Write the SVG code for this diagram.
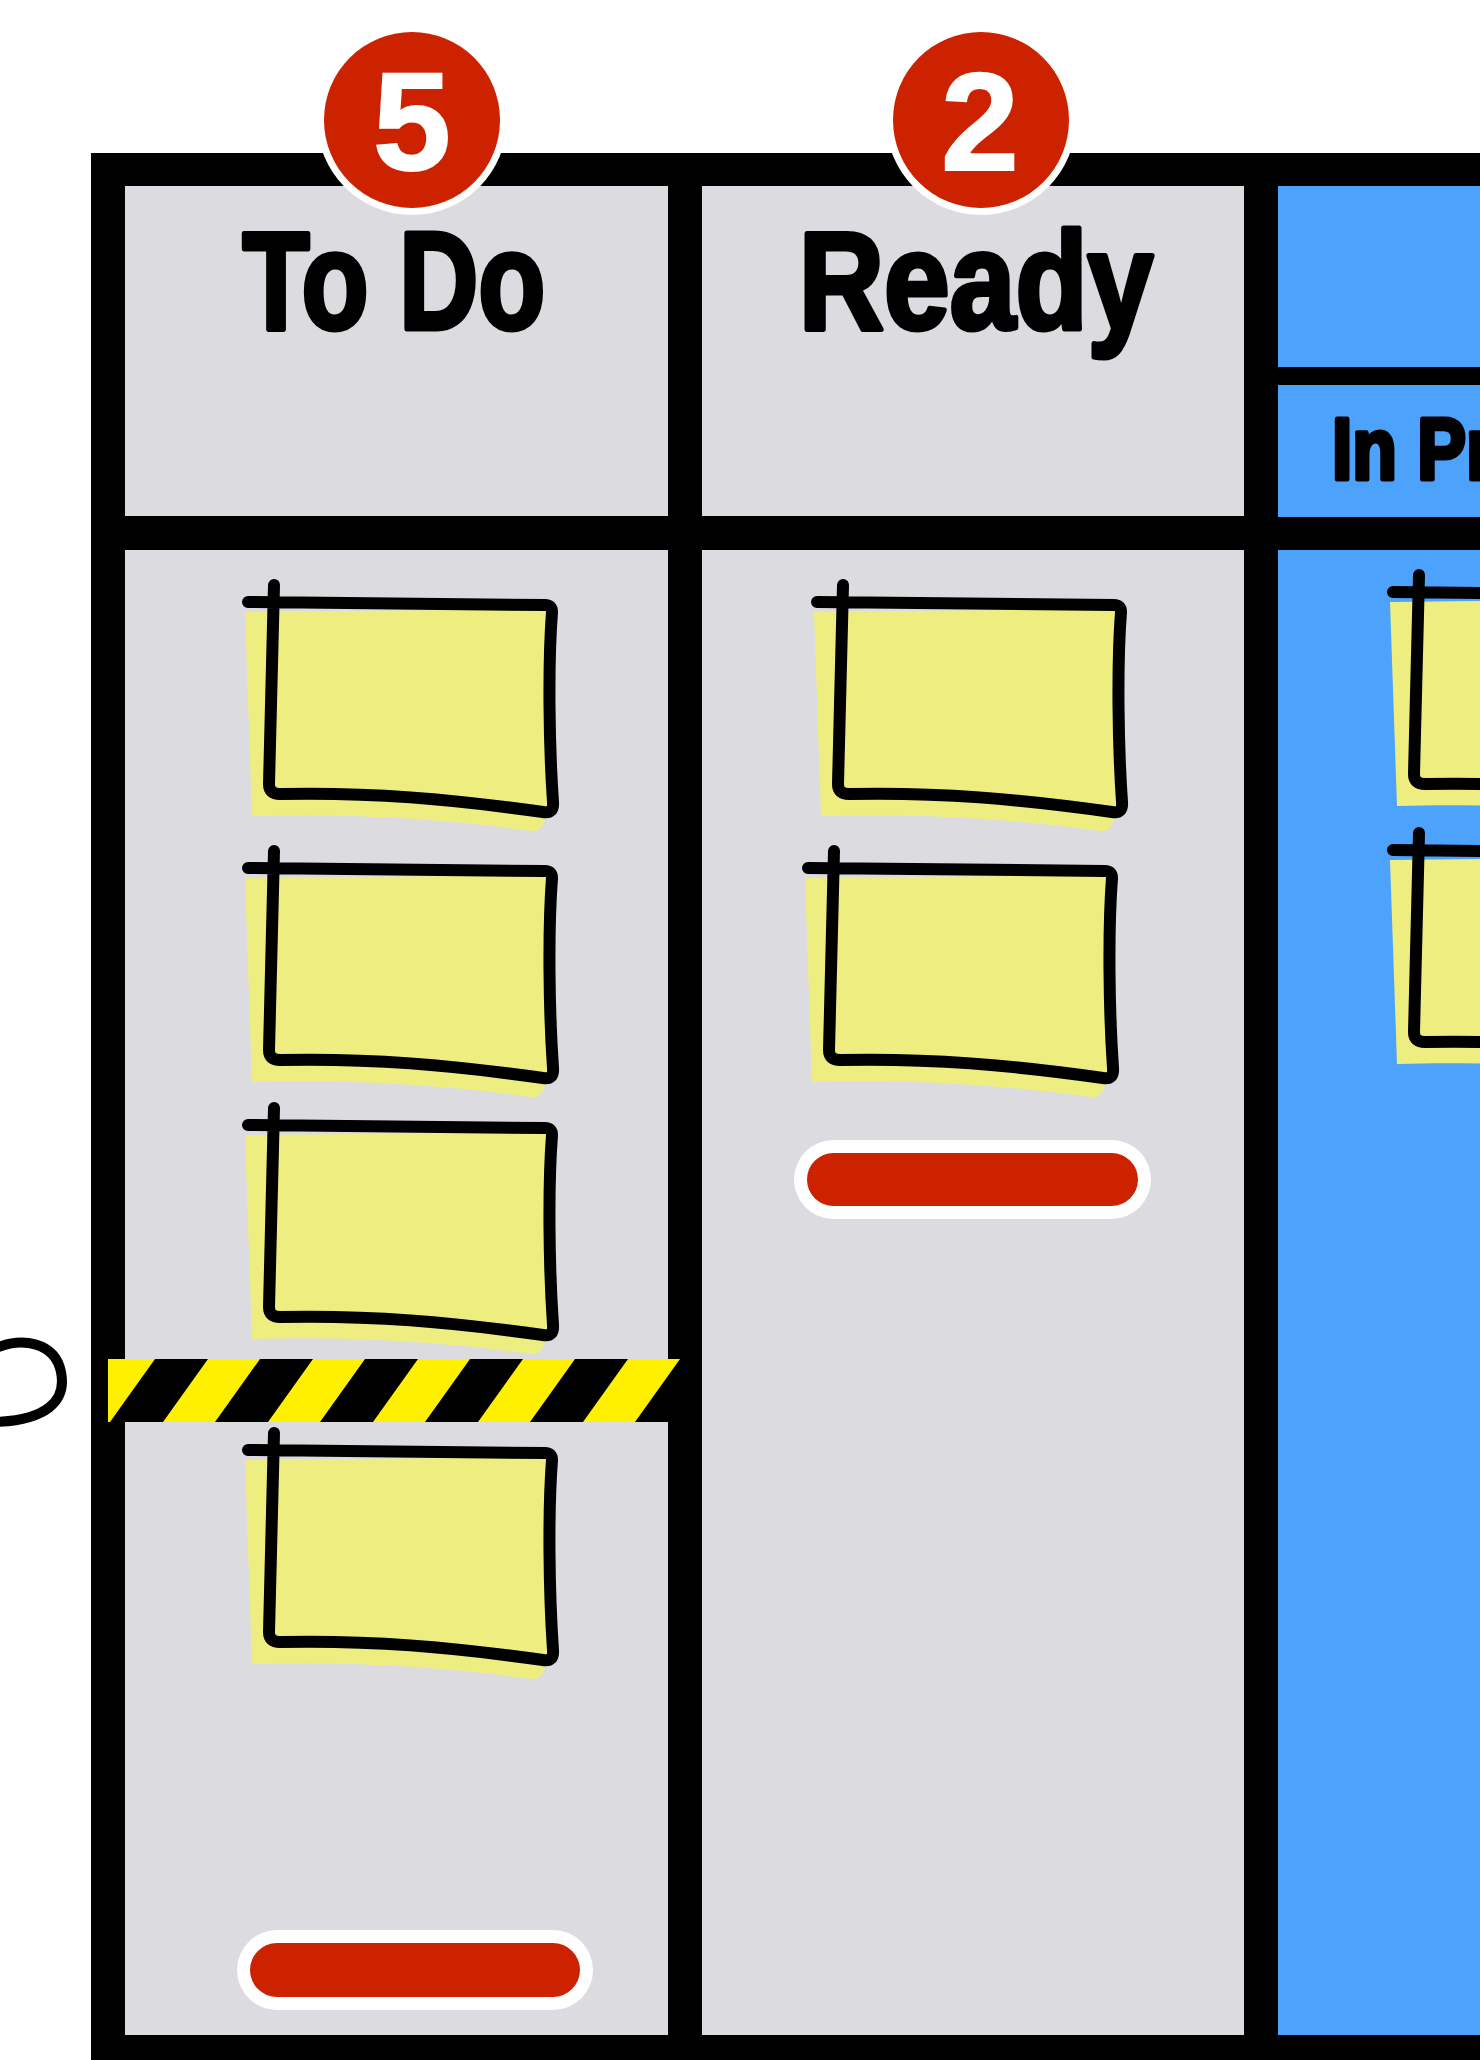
<svg xmlns="http://www.w3.org/2000/svg" xmlns:xlink="http://www.w3.org/1999/xlink" width="1480" height="2060" viewBox="0 0 1480 2060">
<style>
.head{font-family:"Liberation Sans",Arial,sans-serif;font-weight:700;fill:#000;stroke:#000;stroke-width:5;stroke-linejoin:round}
.num{font-family:"Liberation Sans",Arial,sans-serif;font-weight:700;fill:#fff;stroke:#fff;stroke-width:2;font-size:140px;text-anchor:middle}
.gray{fill:#dcdce0}
.blue{fill:#4da3fb}
.outline{fill:none;stroke:#000;stroke-width:12;stroke-linecap:round;stroke-linejoin:round}
.paper{fill:#eeee80}
.halo{fill:#fff}
.red{fill:#cc2200}
.stripe{fill:#000}
</style>
<defs>
  <g id="note">
    <path class="paper" d="M -25 8 L 279 5 L 277 205 Q 274 228 262 227 C 180 216 90 209 -18 212 Z"/>
    <path class="outline" d="M 4 -19 L -1 180 Q -1 190 10 190 C 100 188 180 195 273 208 Q 284 210 283 198 C 279 140 278 60 282 8 Q 282 1 275 1 L -22 -2"/>
  </g>
  <polygon id="hz" class="stripe" points="155,1359 208,1359 163,1422 110,1422"/>
  <clipPath id="stripeClip"><rect x="108" y="1359" width="572" height="63"/></clipPath>
</defs>

<rect width="1480" height="2060" fill="#fff"/>

<g id="board">
  <rect x="91" y="153" width="1400" height="1920" fill="#000"/>
</g>

<g id="col-todo">
  <rect class="gray" x="125" y="186" width="543" height="330"/>
  <rect class="gray" x="125" y="550" width="543" height="1485"/>
  <text class="head" font-size="139" text-anchor="middle" transform="translate(394,329) scale(0.79,1)">To Do</text>
</g>

<g id="col-ready">
  <rect class="gray" x="702" y="186" width="542" height="330"/>
  <rect class="gray" x="702" y="550" width="542" height="1485"/>
  <text class="head" font-size="139" text-anchor="middle" transform="translate(976,329) scale(0.85,1)">Ready</text>
</g>

<g id="col-in-progress">
  <rect class="blue" x="1278" y="186" width="210" height="181"/>
  <rect class="blue" x="1278" y="385" width="210" height="132"/>
  <rect class="blue" x="1278" y="550" width="210" height="1485"/>
  <text class="head" font-size="87" stroke-width="4" transform="translate(1332,479) scale(0.84,1)">In Pr</text>
</g>

<g id="todo-card-1" transform="translate(270,604)"><use xlink:href="#note" href="#note"/></g>
<g id="todo-card-2" transform="translate(270,870)"><use xlink:href="#note" href="#note"/></g>
<g id="todo-card-3" transform="translate(270,1127)"><use xlink:href="#note" href="#note"/></g>
<g id="todo-card-4" transform="translate(270,1452)"><use xlink:href="#note" href="#note"/></g>
<g id="ready-card-1" transform="translate(839,604)"><use xlink:href="#note" href="#note"/></g>
<g id="ready-card-2" transform="translate(830,870)"><use xlink:href="#note" href="#note"/></g>
<g id="progress-card-1" transform="translate(1415,594)"><use xlink:href="#note" href="#note"/></g>
<g id="progress-card-2" transform="translate(1415,852)"><use xlink:href="#note" href="#note"/></g>

<g id="wip-limit-line" clip-path="url(#stripeClip)">
  <rect x="108" y="1359" width="572" height="63" fill="#fff000"/>
  <use xlink:href="#hz" href="#hz"/>
  <use xlink:href="#hz" href="#hz" transform="translate(105,0)"/>
  <use xlink:href="#hz" href="#hz" transform="translate(210,0)"/>
  <use xlink:href="#hz" href="#hz" transform="translate(315,0)"/>
  <use xlink:href="#hz" href="#hz" transform="translate(420,0)"/>
  <use xlink:href="#hz" href="#hz" transform="translate(525,0)"/>
</g>

<g id="badge-todo">
  <circle class="halo" cx="412" cy="120" r="95"/>
  <circle class="red" cx="412" cy="120" r="88"/>
  <text class="num" x="412" y="170">5</text>
</g>
<g id="badge-ready">
  <circle class="halo" cx="981" cy="120" r="95"/>
  <circle class="red" cx="981" cy="120" r="88"/>
  <text class="num" x="980" y="170">2</text>
</g>

<g id="pill-todo">
  <rect class="halo" x="237" y="1930" width="356" height="80" rx="40"/>
  <rect class="red" x="250" y="1943" width="330" height="54" rx="27"/>
</g>
<g id="pill-ready">
  <rect class="halo" x="794" y="1140" width="357" height="79" rx="39.5"/>
  <rect class="red" x="807" y="1153" width="331" height="53" rx="26.5"/>
</g>

<g id="connectors">
  <path d="M -4 1348 C 22 1337 55 1342 61 1372 C 67 1402 45 1420 -4 1422" fill="none" stroke="#000" stroke-width="10" stroke-linecap="round"/>
</g>
</svg>
